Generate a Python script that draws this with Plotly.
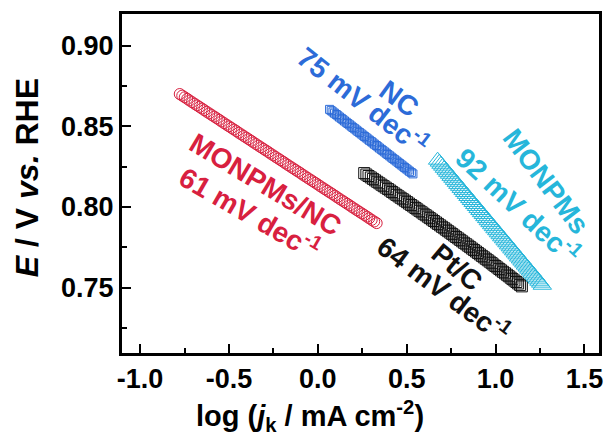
import plotly.graph_objects as go

# Tafel plots: log(jk) vs potential for each catalyst
mnc_logj = [-0.777, -0.763, -0.749, -0.735, -0.722, -0.708, -0.694, -0.680, -0.666, -0.652,
            -0.639, -0.625, -0.611, -0.597, -0.583, -0.569, -0.555, -0.542, -0.528, -0.514,
            -0.500, -0.486, -0.472, -0.458, -0.445, -0.431, -0.417, -0.403, -0.389, -0.375,
            -0.362, -0.348, -0.334, -0.320, -0.306, -0.292, -0.278, -0.265, -0.251, -0.237,
            -0.223, -0.209, -0.195, -0.182, -0.168, -0.154, -0.140, -0.126, -0.112, -0.098,
            -0.085, -0.071, -0.057, -0.043, -0.029, -0.015, -0.001, 0.012, 0.026, 0.040,
            0.054, 0.068, 0.082, 0.096, 0.109, 0.123, 0.137, 0.151, 0.165, 0.179,
            0.192, 0.206, 0.220, 0.234, 0.248, 0.262, 0.276, 0.289, 0.303, 0.317, 0.331]
mnc_E = [0.870, 0.869, 0.868, 0.867, 0.866, 0.865, 0.864, 0.863, 0.862, 0.861,
         0.860, 0.859, 0.858, 0.857, 0.856, 0.855, 0.854, 0.853, 0.852, 0.851,
         0.850, 0.849, 0.848, 0.847, 0.846, 0.845, 0.844, 0.843, 0.842, 0.841,
         0.840, 0.839, 0.838, 0.837, 0.836, 0.835, 0.834, 0.833, 0.832, 0.831,
         0.830, 0.829, 0.828, 0.827, 0.826, 0.825, 0.824, 0.823, 0.822, 0.821,
         0.820, 0.819, 0.818, 0.817, 0.816, 0.815, 0.814, 0.813, 0.812, 0.811,
         0.810, 0.809, 0.808, 0.807, 0.806, 0.805, 0.804, 0.803, 0.802, 0.801,
         0.800, 0.799, 0.798, 0.797, 0.796, 0.795, 0.794, 0.793, 0.792, 0.791, 0.790]

nc_logj = [0.066, 0.075, 0.085, 0.094, 0.104, 0.113, 0.122, 0.132, 0.141, 0.150,
           0.160, 0.169, 0.179, 0.188, 0.197, 0.207, 0.216, 0.225, 0.235, 0.244,
           0.254, 0.263, 0.272, 0.282, 0.291, 0.301, 0.310, 0.319, 0.329, 0.338,
           0.347, 0.357, 0.366, 0.376, 0.385, 0.394, 0.404, 0.413, 0.422, 0.432,
           0.441, 0.451, 0.460, 0.469, 0.479, 0.488, 0.497, 0.507, 0.516, 0.526, 0.535]
nc_E = [0.8605, 0.8597, 0.8589, 0.8581, 0.8573, 0.8565, 0.8557, 0.8549, 0.8541, 0.8533,
        0.8525, 0.8517, 0.8509, 0.8501, 0.8493, 0.8485, 0.8477, 0.8469, 0.8461, 0.8453,
        0.8445, 0.8437, 0.8429, 0.8421, 0.8413, 0.8405, 0.8397, 0.8389, 0.8381, 0.8373,
        0.8365, 0.8357, 0.8349, 0.8341, 0.8333, 0.8325, 0.8317, 0.8309, 0.8301, 0.8293,
        0.8285, 0.8277, 0.8269, 0.8261, 0.8253, 0.8245, 0.8237, 0.8229, 0.8221, 0.8213, 0.8205]

ptc_logj = [0.261, 0.273, 0.285, 0.298, 0.310, 0.322, 0.334, 0.346, 0.358, 0.370,
            0.382, 0.395, 0.407, 0.418, 0.430, 0.442, 0.454, 0.466, 0.478, 0.490,
            0.502, 0.513, 0.525, 0.537, 0.549, 0.560, 0.572, 0.584, 0.595, 0.607,
            0.619, 0.630, 0.642, 0.653, 0.665, 0.676, 0.688, 0.699, 0.711, 0.722,
            0.733, 0.745, 0.756, 0.767, 0.778, 0.790, 0.801, 0.812, 0.823, 0.835,
            0.846, 0.857, 0.868, 0.879, 0.890, 0.901, 0.912, 0.923, 0.934, 0.945,
            0.956, 0.967, 0.978, 0.988, 0.999, 1.010, 1.021, 1.031, 1.042, 1.053,
            1.064, 1.074, 1.085, 1.095, 1.106, 1.117, 1.127, 1.138, 1.148]
ptc_E = [0.8210, 0.8201, 0.8192, 0.8183, 0.8174, 0.8165, 0.8156, 0.8147, 0.8138, 0.8129,
         0.8120, 0.8111, 0.8102, 0.8093, 0.8084, 0.8075, 0.8066, 0.8057, 0.8048, 0.8039,
         0.8030, 0.8021, 0.8012, 0.8003, 0.7994, 0.7985, 0.7976, 0.7967, 0.7958, 0.7949,
         0.7940, 0.7931, 0.7922, 0.7913, 0.7904, 0.7895, 0.7886, 0.7877, 0.7868, 0.7859,
         0.7850, 0.7841, 0.7832, 0.7823, 0.7814, 0.7805, 0.7796, 0.7787, 0.7778, 0.7769,
         0.7760, 0.7751, 0.7742, 0.7733, 0.7724, 0.7715, 0.7706, 0.7697, 0.7688, 0.7679,
         0.7670, 0.7661, 0.7652, 0.7643, 0.7634, 0.7625, 0.7616, 0.7607, 0.7598, 0.7589,
         0.7580, 0.7571, 0.7562, 0.7553, 0.7544, 0.7535, 0.7526, 0.7517, 0.7508]

mon_logj = [0.674, 0.684, 0.693, 0.703, 0.712, 0.722, 0.731, 0.741, 0.750, 0.760,
            0.769, 0.779, 0.788, 0.798, 0.807, 0.817, 0.826, 0.836, 0.845, 0.855,
            0.864, 0.874, 0.883, 0.893, 0.902, 0.912, 0.921, 0.931, 0.940, 0.950,
            0.959, 0.969, 0.978, 0.988, 0.997, 1.007, 1.016, 1.026, 1.035, 1.045,
            1.054, 1.064, 1.073, 1.083, 1.092, 1.102, 1.111, 1.121, 1.130, 1.140,
            1.149, 1.159, 1.168, 1.178, 1.187, 1.197, 1.206, 1.216, 1.225, 1.235,
            1.244, 1.254, 1.263]
mon_E = [0.8290, 0.8278, 0.8265, 0.8253, 0.8240, 0.8228, 0.8215, 0.8203, 0.8190, 0.8178,
         0.8165, 0.8153, 0.8140, 0.8128, 0.8115, 0.8103, 0.8090, 0.8078, 0.8065, 0.8053,
         0.8040, 0.8028, 0.8015, 0.8003, 0.7990, 0.7978, 0.7965, 0.7953, 0.7940, 0.7928,
         0.7915, 0.7903, 0.7890, 0.7878, 0.7865, 0.7853, 0.7840, 0.7828, 0.7815, 0.7803,
         0.7790, 0.7778, 0.7765, 0.7753, 0.7740, 0.7728, 0.7715, 0.7703, 0.7690, 0.7678,
         0.7665, 0.7653, 0.7640, 0.7628, 0.7615, 0.7603, 0.7590, 0.7578, 0.7565, 0.7553,
         0.7540, 0.7528, 0.7515]

x_ticks = [-1.0, -0.5, 0.0, 0.5, 1.0, 1.5]
x_ticklabels = ["-1.0", "-0.5", "0.0", "0.5", "1.0", "1.5"]
y_ticks = [0.75, 0.80, 0.85, 0.90]
y_ticklabels = ["0.75", "0.80", "0.85", "0.90"]

RED = "#d8203f"
BLUE = "#2c6bd8"
BLACK = "#111111"
CYAN = "#26b6da"
FONT = "Liberation Sans, Arial, sans-serif"

fig = go.Figure()
fig.add_trace(go.Scatter(x=mnc_logj, y=mnc_E, mode="markers", name="MONPMs/NC",
                         marker=dict(symbol="circle-open", size=11, color=RED,
                                     line=dict(width=1, color=RED))))
fig.add_trace(go.Scatter(x=nc_logj, y=nc_E, mode="markers", name="NC",
                         marker=dict(symbol="square-open", size=8, color=BLUE,
                                     line=dict(width=1, color=BLUE))))
fig.add_trace(go.Scatter(x=ptc_logj, y=ptc_E, mode="markers", name="Pt/C",
                         marker=dict(symbol="square-open", size=11, color=BLACK,
                                     line=dict(width=1, color=BLACK))))
fig.add_trace(go.Scatter(x=mon_logj, y=mon_E, mode="markers", name="MONPMs",
                         marker=dict(symbol="triangle-up-open", size=16, color=CYAN,
                                     line=dict(width=1, color=CYAN))))

# slope labels, each set along its data band
labels = [
    ("MONPMs/NC", -0.297, 0.8140, 31, RED),
    ("61 mV dec<sup>-1</sup>", -0.381, 0.7967, 30, RED),
    ("NC", 0.456, 0.8672, 36, BLUE),
    ("75 mV dec<sup>-1</sup>", 0.260, 0.8666, 38, BLUE),
    ("Pt/C", 0.785, 0.7626, 40, BLACK),
    ("64 mV dec<sup>-1</sup>", 0.707, 0.7496, 37, BLACK),
    ("MONPMs", 1.283, 0.8155, 53, CYAN),
    ("92 mV dec<sup>-1</sup>", 1.130, 0.8015, 43, CYAN),
]
annotations = []
for text, ax, ay, ang, col in labels:
    annotations.append(dict(x=ax, y=ay, xref="x", yref="y", text="<b>" + text + "</b>",
                            showarrow=False, textangle=ang, xanchor="center", yanchor="middle",
                            font=dict(family=FONT, size=28, color=col)))

# axis titles
annotations.append(dict(x=-0.1975, y=0.518, xref="paper", yref="paper",
                        text="<b><i>E</i> / V <i>vs.</i> RHE</b>", showarrow=False,
                        textangle=-90, xanchor="center", yanchor="middle",
                        font=dict(family=FONT, size=32, color="black")))
annotations.append(dict(x=0.395, y=-0.12, xref="paper", yref="paper",
                        text="<b>log (<i>j</i><sub>k</sub> / mA cm<sup>-2</sup>)</b>",
                        showarrow=False, xanchor="center", yanchor="top",
                        font=dict(family=FONT, size=29, color="black")))

axis_common = dict(showline=True, linewidth=3, linecolor="black", mirror=True,
                   ticks="inside", ticklen=9, tickwidth=2, tickcolor="black",
                   showgrid=False, zeroline=False,
                   tickfont=dict(family=FONT, size=27, color="black", weight="bold"))

fig.update_xaxes(range=[-1.102, 1.582], tickvals=x_ticks, ticktext=x_ticklabels,
                 minor=dict(ticks="inside", ticklen=5, tickwidth=2, tickcolor="black",
                            dtick=0.25, tick0=0, showgrid=False),
                 **axis_common)
fig.update_yaxes(range=[0.7095, 0.9196], tickvals=y_ticks, ticktext=y_ticklabels,
                 minor=dict(ticks="inside", ticklen=5, tickwidth=2, tickcolor="black",
                            dtick=0.025, tick0=0, showgrid=False),
                 **axis_common)

fig.update_layout(width=614, height=439, showlegend=False,
                  margin=dict(l=122, r=11, t=13, b=86),
                  paper_bgcolor="white", plot_bgcolor="white",
                  annotations=annotations)

fig.write_html("out.html")
